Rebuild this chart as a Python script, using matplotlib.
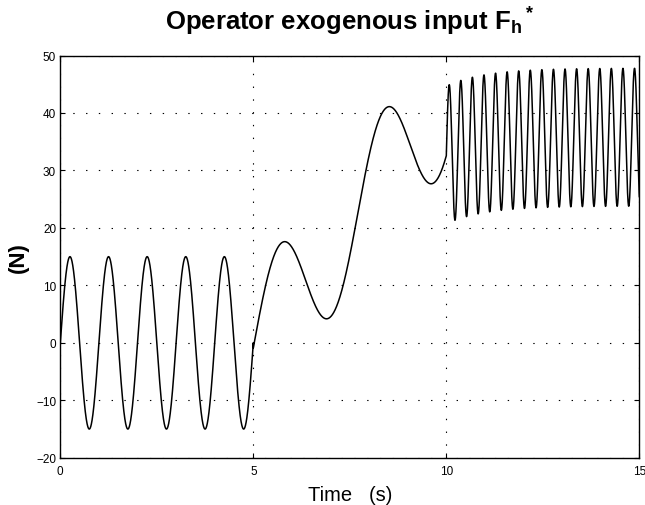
import numpy as np
import matplotlib.pyplot as plt

plt.rcParams["font.family"] = ["Liberation Sans", "DejaVu Sans"]
plt.rcParams["mathtext.fontset"] = "custom"
plt.rcParams["mathtext.rm"] = "Liberation Sans"
plt.rcParams["mathtext.bf"] = "Liberation Sans:bold"
plt.rcParams["lines.scale_dashes"] = False

# values
seg_edges = [0.0, 5.0, 10.0, 15.0]      # s
seg_amp = [15.0, 12.0, 12.0]            # N, sine amplitude per segment
seg_freq = [1.0, 0.369, 3.333]          # Hz
ramp_start = -0.85                      # N, level at 5 s
ramp_slope = 8.67                       # N/s, drift between 5 and 10 s
final_levels = [32.7, 35.8]             # N, mean level at 10 s and settled
final_tau = 1.0                         # s

xticks = [0, 5, 10, 15]
yticks = [-20, -10, 0, 10, 20, 30, 40, 50]

# build the trace segment by segment
t_parts, f_parts = [], []
for i in range(3):
    t = np.linspace(seg_edges[i], seg_edges[i + 1], 3000)
    s = t - seg_edges[i]
    wave = seg_amp[i] * np.sin(2 * np.pi * seg_freq[i] * s)
    if i == 0:
        level = 0.0
    elif i == 1:
        level = ramp_start + ramp_slope * s
    else:
        level = final_levels[1] - (final_levels[1] - final_levels[0]) * np.exp(-s / final_tau)
    t_parts.append(t)
    f_parts.append(level + wave)

time = np.concatenate(t_parts)
force = np.concatenate(f_parts)

fig = plt.figure(figsize=(6.45, 5.06), dpi=100)
ax = fig.add_axes([0.0935, 0.0933, 0.8977, 0.795])

ax.plot(time, force, color="black", linewidth=1.1)

ax.set_xlim(0, 15)
ax.set_ylim(-20, 50)
ax.set_xticks(xticks)
ax.set_yticks(yticks)
ax.grid(True, color="black", linestyle=(0, (1.0, 8.2)), linewidth=0.8)
ax.tick_params(direction="in", top=True, right=True, length=3.5, width=0.8,
               labelsize=8.5)
ax.tick_params(axis="x", pad=5)
ax.tick_params(axis="y", pad=3)
for sp in ax.spines.values():
    sp.set_linewidth(1.0)

ax.set_title(r"Operator exogenous input $\mathbf{{F_h}^*}$", fontsize=18.5,
             fontweight="bold", pad=19)
ax.set_xlabel("Time   (s)", fontsize=14.5, labelpad=6)
ax.set_ylabel("(N)", fontsize=16, fontweight="bold", labelpad=5)

plt.savefig("out.png", dpi=100)
